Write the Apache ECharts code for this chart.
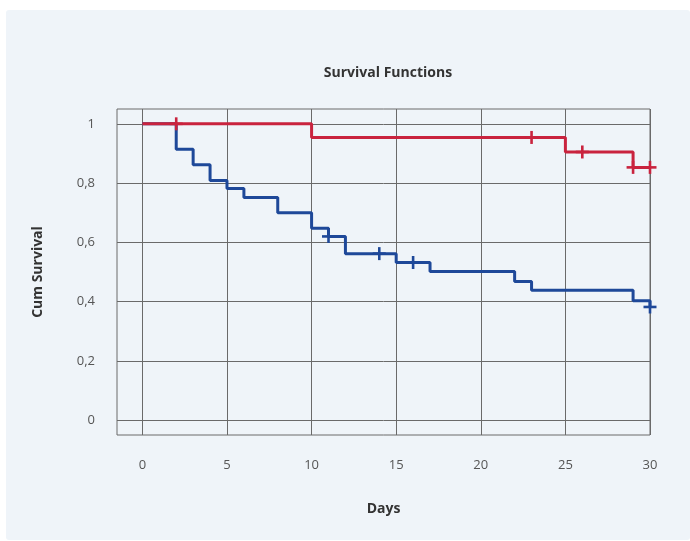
<!DOCTYPE html>
<html>
<head>
<meta charset="utf-8">
<script src="https://cdn.jsdelivr.net/npm/echarts@6/dist/echarts.min.js"></script>
<style>
html,body{margin:0;padding:0;background:#fff;}
#chart{width:690px;height:541px;}
</style>
</head>
<body>
<div id="chart"></div>
<script>
// Group 1 (red) step curve: time, cumulative survival
const redTimes = [0, 10, 25, 29, 30];
const redSurv = [1, 0.954, 0.905, 0.853, 0.853];
const redCensorTimes = [2, 23, 26, 29, 30];
const redCensorSurv = [1, 0.954, 0.905, 0.853, 0.853];

// Group 2 (blue) step curve
const blueTimes = [0, 2, 3, 4, 5, 6, 8, 10, 11, 12, 15, 17, 22, 23, 29, 30];
const blueSurv = [1, 0.914, 0.862, 0.809, 0.782, 0.751, 0.700, 0.648, 0.620, 0.562, 0.532, 0.502, 0.468, 0.438, 0.403, 0.382];
const blueCensorTimes = [11, 14, 16, 30];
const blueCensorSurv = [0.620, 0.562, 0.532, 0.382];

const xTicks = [0, 5, 10, 15, 20, 25, 30];
const yTicks = [0, 0.2, 0.4, 0.6, 0.8, 1];

const RED = '#c9233e';
const BLUE = '#1e4899';
const GRID = '#6a6a6a';
const FONT = 'Open Sans';

const zip = (a, b) => a.map((v, i) => [v, b[i]]);

function censorSeries(name, data, color) {
  return [
    {
      name: name, type: 'scatter', data: data, symbol: 'rect', symbolSize: [2.6, 13],
      itemStyle: { color: color, opacity: 1 }, z: 5, silent: true
    },
    {
      name: name, type: 'scatter', data: data, symbol: 'rect', symbolSize: [13, 2.6],
      itemStyle: { color: color, opacity: 1 }, z: 5, silent: true
    }
  ];
}

const chart = echarts.init(document.getElementById('chart'));
chart.setOption({
  animation: false,
  backgroundColor: '#ffffff',
  graphic: [{
    type: 'rect', left: 6, top: 10, z: -10, silent: true,
    shape: { width: 684, height: 530, r: 3 },
    style: { fill: '#eff4f9' }
  }],
  title: {
    text: 'Survival Functions', left: 383, top: 61, textAlign: 'center',
    textStyle: { fontFamily: FONT, fontWeight: 'bold', fontSize: 14, color: '#333' }
  },
  grid: {
    left: 117, right: 40, top: 109, bottom: 106,
    show: true, borderColor: GRID, borderWidth: 1, backgroundColor: 'transparent'
  },
  xAxis: {
    type: 'value', min: -1.5, max: 30,
    name: 'Days', nameLocation: 'middle', nameGap: 67,
    nameTextStyle: { fontFamily: FONT, fontWeight: 'bold', fontSize: 14, color: '#333' },
    axisLine: { show: false },
    axisTick: { show: true, length: 11, lineStyle: { color: GRID }, customValues: xTicks },
    axisLabel: { customValues: xTicks, margin: 24, fontFamily: FONT, fontSize: 13, color: '#555' },
    splitLine: { show: true, lineStyle: { color: GRID, width: 1 } }
  },
  yAxis: {
    type: 'value', min: -0.05, max: 1.05,
    name: 'Cum Survival', nameLocation: 'middle', nameGap: 72,
    nameTextStyle: { fontFamily: FONT, fontWeight: 'bold', fontSize: 14, color: '#333' },
    axisLine: { show: false },
    axisTick: { show: true, length: 10, lineStyle: { color: GRID }, customValues: yTicks },
    axisLabel: {
      customValues: yTicks, margin: 22, fontFamily: FONT, fontSize: 13, color: '#555',
      formatter: v => String(+v.toFixed(1)).replace('.', ',')
    },
    splitLine: { show: true, lineStyle: { color: GRID, width: 1 } }
  },
  series: [
    {
      name: 'blue', type: 'line', step: 'end', data: zip(blueTimes, blueSurv),
      showSymbol: false, lineStyle: { color: BLUE, width: 3 }, z: 3, silent: true
    },
    {
      name: 'red', type: 'line', step: 'end', data: zip(redTimes, redSurv),
      showSymbol: false, lineStyle: { color: RED, width: 3 }, z: 4, silent: true
    },
    ...censorSeries('blueC', zip(blueCensorTimes, blueCensorSurv), BLUE),
    ...censorSeries('redC', zip(redCensorTimes, redCensorSurv), RED)
  ]
});
</script>
</body>
</html>
